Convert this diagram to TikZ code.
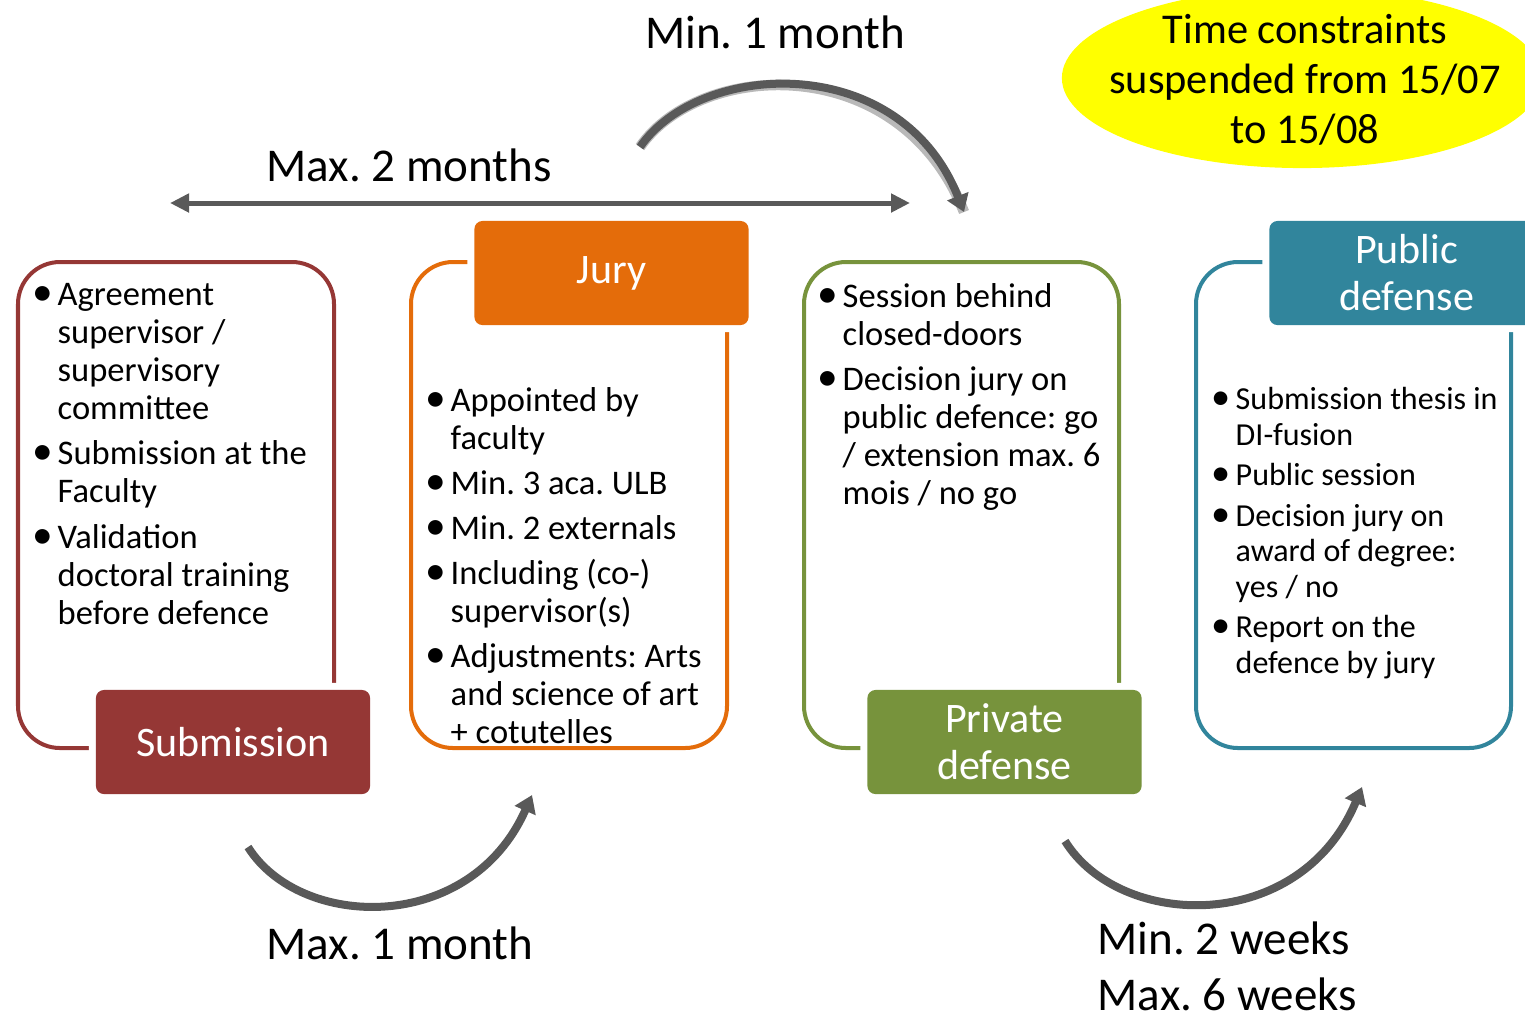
\documentclass[tikz,border=0pt]{standalone}
\usepackage{fontspec}
\setmainfont{Carlito}
\frenchspacing
\usetikzlibrary{arrows.meta,shapes.geometric}
\definecolor{cred}{HTML}{953735}
\definecolor{corange}{HTML}{E46C0A}
\definecolor{cgreen}{HTML}{77933C}
\definecolor{cteal}{HTML}{31859C}
\definecolor{cgray}{HTML}{595959}
\definecolor{cyellow}{HTML}{FFFF00}
\newcommand\myb{\makebox[0.3cm][c]{\scalebox{1.2}{\textbullet}}}
\newcommand\myi{\hspace*{0.3cm}}
\newcommand\btfont{\fontsize{0.345cm}{0.38cm}\selectfont}
\newcommand\bsfont{\fontsize{0.32cm}{0.352cm}\selectfont}
\newcommand\headfont{\fontsize{0.42cm}{0.47cm}\selectfont}
\newcommand\lblfont{\fontsize{0.47cm}{0.56cm}\selectfont}
\newcommand\ellfont{\fontsize{0.424cm}{0.50cm}\selectfont}
\tikzset{
  frame/.style={line width=0.04cm, rounded corners=0.42cm},
  head/.style={rounded corners=0.08cm, minimum width=2.74cm, minimum height=1.04cm,
    inner sep=0pt, text=white, align=center, font=\headfont,
    preaction={draw=white, line width=0.14cm}},
  btext/.style={anchor=north west, inner sep=0pt, align=left, font=\btfont},
  lbl/.style={inner sep=0pt, font=\lblfont},
  span/.style={draw=cgray, line width=0.05cm,
    {Triangle[length=0.19cm,width=0.18cm]}-{Triangle[length=0.19cm,width=0.18cm]}},
  curvearrow/.style={draw=cgray, line width=0.08cm, -{Triangle[length=0.17cm,width=0.22cm]}},
}
\begin{document}
\begin{tikzpicture}[x=0.01cm,y=-0.01cm]
\useasboundingbox (0,0) rectangle (1525,1017);
\clip (0,0) rectangle (1525,1017);

% note ellipse
\fill[cyellow] (1302,78) ellipse [x radius=2.4cm, y radius=0.9cm];
\node[font=\ellfont, align=center, inner sep=0pt] (note) at (1305,80)
  {Time constraints\\suspended from 15/07\\to 15/08};

% frames
\draw[frame, cred] (18,262) rectangle (334,748);
\draw[frame, corange] (411,262) rectangle (727,748);
\draw[frame, cgreen] (804,262) rectangle (1119,748);
\draw[frame, cteal] (1196,262) rectangle (1511,748);

% headers
\node[head, fill=cred] (sub) at (233,742) {Submission};
\node[head, fill=corange] (jury) at (611.5,273) {Jury};
\node[head, fill=cgreen] (priv) at (1004.5,742) {Private\\defense};
\node[head, fill=cteal] (pub) at (1406.5,273) {Public\\defense};

% bullet texts
\node[btext] (subtxt) at (27,283) {\myb Agreement\\\myi supervisor /\\\myi supervisory\\\myi committee\\[0.07cm]%
\myb Submission at the\\\myi Faculty\\[0.07cm]%
\myb Validation\\\myi doctoral training\\\myi before defence};
\node[btext] (jurytxt) at (420,387) {\myb Appointed by\\\myi faculty\\[0.07cm]%
\myb Min. 3 aca. ULB\\[0.07cm]%
\myb Min. 2 externals\\[0.07cm]%
\myb Including (co-)\\\myi supervisor(s)\\[0.07cm]%
\myb Adjustments: Arts\\\myi and science of art\\\myi + cotutelles};
\node[btext] (privtxt) at (812,283) {\myb Session behind\\\myi closed-doors\\[0.07cm]%
\myb Decision jury on\\\myi public defence: go\\\myi / extension max. 6\\\myi mois / no go};
\node[btext, font=\bsfont] (pubtxt) at (1205,387) {\myb Submission thesis in\\\myi DI-fusion\\[0.055cm]%
\myb Public session\\[0.055cm]%
\myb Decision jury on\\\myi award of degree:\\\myi yes / no\\[0.055cm]%
\myb Report on the\\\myi defence by jury};

% time arrows
\coordinate (h1) at (170,203);
\coordinate (h2) at (910,203);
\draw[span] (h1) -- (h2);
\coordinate (t1) at (640,147);
\coordinate (t2) at (964,212);
\draw[curvearrow, preaction={draw=gray!55, line width=0.105cm, -}] (t1) .. controls (700,60) and (900,50) .. (t2);
\coordinate (b1) at (248,847);
\coordinate (b2) at (532,795);
\draw[curvearrow] (b1) .. controls (300,930) and (470,935) .. (b2);
\coordinate (c1) at (1065,841);
\coordinate (c2) at (1362,787);
\draw[curvearrow] (c1) .. controls (1120,930) and (1300,935) .. (c2);

% labels
\node[lbl] (l1) at (775,32) {Min. 1 month};
\node[lbl] (l2) at (409,165) {Max. 2 months};
\node[lbl] (l3) at (400,943) {Max. 1 month};
\node[lbl, align=left, anchor=west] (l4) at (1097,966) {Min. 2 weeks\\Max. 6 weeks};
\end{tikzpicture}
\end{document}
